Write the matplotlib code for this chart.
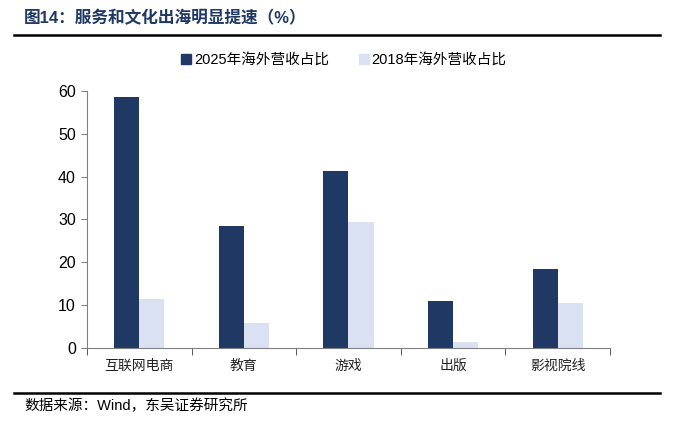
import matplotlib
matplotlib.use('Agg')
import matplotlib.pyplot as plt
import numpy as np
from matplotlib.lines import Line2D

plt.rcParams['font.family'] = ['Liberation Sans', 'Noto Sans CJK SC', 'DejaVu Sans']

# 数据
categories = ['互联网电商', '教育', '游戏', '出版', '影视院线']
share_2025 = [58.6, 28.5, 41.3, 11.0, 18.4]
share_2018 = [11.4, 5.8, 29.4, 1.4, 10.5]
series_names = ['2025年海外营收占比', '2018年海外营收占比']
c_dark = '#1F3864'
c_light = '#DAE1F3'

fig = plt.figure(figsize=(6.84, 4.21), dpi=100)
ax = fig.add_axes([0.127, 0.1734, 0.765, 0.6106])

x = np.arange(len(categories))
w = 0.24
ax.bar(x - w / 2, share_2025, w, color=c_dark, label=series_names[0])
ax.bar(x + w / 2, share_2018, w, color=c_light, label=series_names[1])

ax.set_xlim(-0.5, len(categories) - 0.5)
ax.set_ylim(0, 60)
ax.set_yticks(range(0, 61, 10))
ax.tick_params(axis='y', labelsize=11.5, length=4, color='#808080', pad=4)
ax.set_xticks(x)
ax.set_xticklabels(categories, fontsize=10, color='#222222')
ax.tick_params(axis='x', length=0, pad=8)
# 类别之间的刻度
ax.set_xticks(np.arange(-0.5, len(categories) + 0.5, 1), minor=True)
ax.tick_params(axis='x', which='minor', length=5, color='#404040', direction='out')

for s in ['top', 'right']:
    ax.spines[s].set_visible(False)
ax.spines['left'].set_color('#808080')
ax.spines['bottom'].set_color('#808080')

# 图例
handles = [Line2D([], [], marker='s', linestyle='none', color=c_dark, markersize=7),
           Line2D([], [], marker='s', linestyle='none', color=c_light, markersize=7)]
fig.legend(handles, series_names, loc='center', bbox_to_anchor=(0.502, 1 - 60 / 421),
           ncol=2, frameon=False, fontsize=10.5, handletextpad=0.1, columnspacing=2.0,
           handlelength=0.8)

# 标题和来源
fig.text(24 / 684, 1 - 18 / 421, '图14：服务和文化出海明显提速（%）', fontsize=12,
         fontweight='bold', color='#1F3864', va='center', ha='left')
fig.add_artist(Line2D([14 / 684, 660 / 684], [1 - 35 / 421] * 2, color='black', lw=1.8))
fig.add_artist(Line2D([14 / 684, 660 / 684], [1 - 393 / 421] * 2, color='black', lw=1.8))
fig.text(24 / 684, 1 - 406 / 421, '数据来源：Wind，东吴证券研究所', fontsize=10.5,
         va='center', ha='left')

fig.savefig('out.png', dpi=100)
